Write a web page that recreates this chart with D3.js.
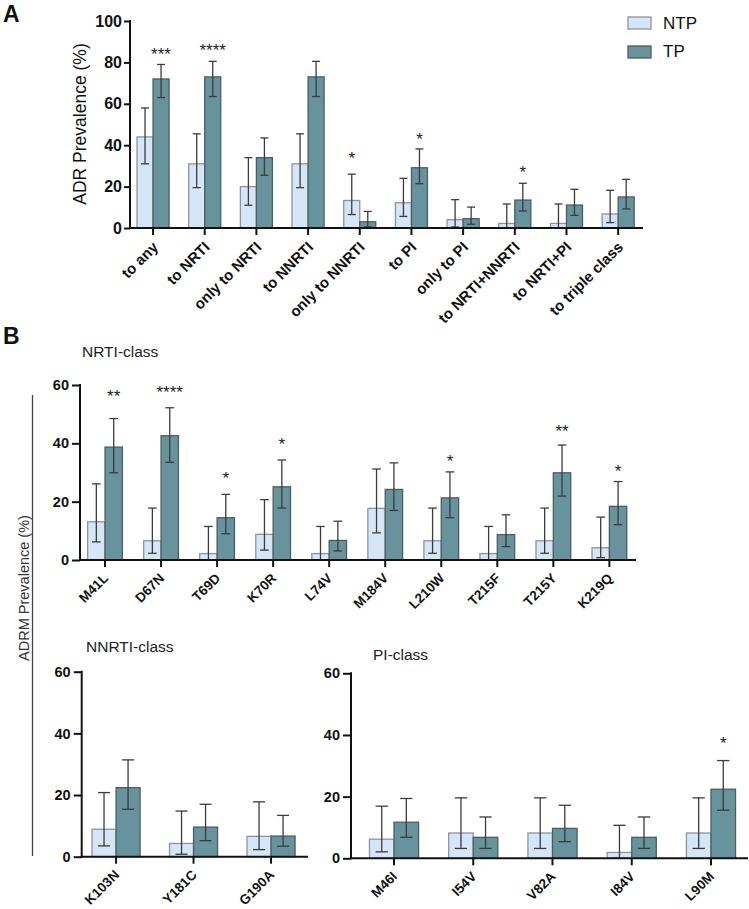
<!DOCTYPE html>
<html><head><meta charset="utf-8">
<script src="https://cdn.jsdelivr.net/npm/d3@7"></script>
<style>body{margin:0;background:#fff} svg{display:block;font-family:"Liberation Sans",Arial,Helvetica,sans-serif}</style>
</head><body><svg id="c" width="749" height="909"></svg>
<script>
// ---------- DATA ----------
const seriesNames = ["NTP", "TP"];
const yTicksA = [0, 20, 40, 60, 80, 100];
const yTicksB = [0, 20, 40, 60];

// Panel A
const catsA = ["to any","to NRTI","only to NRTI","to NNRTI","only to NNRTI","to PI","only to PI","to NRTI+NNRTI","to NRTI+PI","to triple class"];
const ntpA     = [44, 31, 20, 31, 13.3, 12.2, 4, 2.2, 2.2, 6.8];
const ntpALow  = [31, 19.5, 11, 19.5, 6.5, 5.6, 0.5, 0, 0, 2.6];
const ntpAHigh = [58, 45.5, 34, 45.5, 26, 24, 13.7, 11.6, 11.6, 18.2];
const tpA      = [72, 73, 34, 73, 3, 29.1, 4.5, 13.5, 11.1, 15];
const tpALow   = [63, 63.5, 25.5, 63.5, 0.5, 21.4, 1.8, 8.2, 6.1, 9.2];
const tpAHigh  = [79, 80.5, 43.5, 80.5, 8, 38.2, 10.1, 21.6, 18.7, 23.5];
const sigA      = ["***","****","","","*","*","","*","",""];
const sigALevel = [86, 88, 0, 0, 35.7, 45, 0, 29, 0, 0];

// Panel B - NRTI
const catsNRTI = ["M41L","D67N","T69D","K70R","L74V","M184V","L210W","T215F","T215Y","K219Q"];
const ntpNRTI     = [13.1, 6.6, 2.2, 8.8, 2.2, 17.7, 6.6, 2.2, 6.6, 4.2];
const ntpNRTILow  = [6.2, 2.3, 0, 3.4, 0, 9.3, 2.3, 0, 2.3, 0.8];
const ntpNRTIHigh = [26.1, 17.8, 11.5, 20.7, 11.5, 31.2, 17.8, 11.5, 17.8, 14.7];
const tpNRTI      = [38.7, 42.6, 14.5, 25.1, 6.7, 24.2, 21.3, 8.7, 29.9, 18.4];
const tpNRTILow   = [29.9, 33.5, 9.0, 17.8, 3.1, 17.0, 14.5, 4.6, 21.9, 12.1];
const tpNRTIHigh  = [48.5, 52.2, 22.5, 34.3, 13.3, 33.3, 30.2, 15.5, 39.4, 26.9];
const sigNRTI      = ["**","****","*","*","","","*","","**","*"];
const sigNRTILevel = [57.4, 58.9, 29.4, 41.1, 0, 0, 35.1, 0, 45.5, 32];

// Panel B - NNRTI
const catsNNRTI = ["K103N","Y181C","G190A"];
const ntpNNRTI     = [8.9, 4.3, 6.6];
const ntpNNRTILow  = [3.5, 0.8, 2.3];
const ntpNNRTIHigh = [20.8, 14.8, 17.8];
const tpNNRTI      = [22.4, 9.6, 6.7];
const tpNNRTILow   = [15.4, 5.2, 3.4];
const tpNNRTIHigh  = [31.4, 17.0, 13.4];
const sigNNRTI      = ["","",""];
const sigNNRTILevel = [0, 0, 0];

// Panel B - PI
const catsPI = ["M46I","I54V","V82A","I84V","L90M"];
const ntpPI     = [6.2, 8.2, 8.2, 1.9, 8.2];
const ntpPILow  = [2.1, 3.2, 3.2, 0, 3.2];
const ntpPIHigh = [16.9, 19.6, 19.6, 10.7, 19.6];
const tpPI      = [11.7, 6.8, 9.7, 6.8, 22.4];
const tpPILow   = [6.8, 3.2, 5.4, 3.2, 15.6];
const tpPIHigh  = [19.4, 13.4, 17.2, 13.4, 31.7];
const sigPI      = ["","","","","*"];
const sigPILevel = [0, 0, 0, 0, 38.6];

// ---------- STYLE ----------
const fillC  = {NTP: "#d5e6f8", TP: "#66939c"};
const strokeC = {NTP: "#8f9499", TP: "#4d5d62"};
const errC = "#3c3c3c";

const svg = d3.select("#c");

function panel(o) {
  const g = svg.append("g");
  const x = d3.scaleBand().domain(o.cats).range(o.xr);
  const y = d3.scaleLinear().domain([0, o.ymax]).range(o.yr);
  const bw = x.step() * 0.31;
  const rows = o.cats.map((c, i) => ({
    c, i,
    vals: [
      {s: "NTP", v: o.ntp[i], lo: o.ntpLo[i], hi: o.ntpHi[i]},
      {s: "TP",  v: o.tp[i],  lo: o.tpLo[i],  hi: o.tpHi[i]}
    ],
    sig: o.sig[i], lev: o.lev[i]
  }));
  const cx = (c) => x(c) + x.bandwidth() / 2;
  const bx = (c, s) => s === "NTP" ? cx(c) - bw : cx(c);

  // bars
  rows.forEach(r => {
    r.vals.forEach(d => {
      g.append("rect")
        .attr("x", bx(r.c, d.s)).attr("width", bw)
        .attr("y", y(d.v)).attr("height", y(0) - y(d.v))
        .attr("fill", fillC[d.s]).attr("stroke", strokeC[d.s]).attr("stroke-width", 1.3);
    });
  });
  // error bars
  rows.forEach(r => {
    r.vals.forEach(d => {
      const mx = bx(r.c, d.s) + bw / 2, cap = bw * 0.25;
      const eg = g.append("g").attr("stroke", errC).attr("stroke-width", 1.3).attr("fill", "none");
      eg.append("line").attr("x1", mx).attr("x2", mx).attr("y1", y(d.lo)).attr("y2", y(d.hi));
      eg.append("line").attr("x1", mx - cap).attr("x2", mx + cap).attr("y1", y(d.hi)).attr("y2", y(d.hi));
      eg.append("line").attr("x1", mx - cap).attr("x2", mx + cap).attr("y1", y(d.lo)).attr("y2", y(d.lo));
    });
  });
  // significance stars
  rows.filter(r => r.sig).forEach(r => {
    const top = r.vals[0].hi > r.vals[1].hi ? r.vals[0] : r.vals[1];
    g.append("text").attr("x", bx(r.c, top.s) + bw / 2).attr("y", y(r.lev))
      .attr("dy", "0.58em").attr("text-anchor", "middle")
      .attr("font-size", 17).attr("fill", "#222").text(r.sig);
  });

  // y axis
  const ya = g.append("g").attr("transform", `translate(${o.yx},0)`)
    .call(d3.axisLeft(y).tickValues(o.yticks).tickSize(o.tick).tickSizeOuter(0).tickPadding(o.tpad));
  ya.select(".domain").remove();
  ya.selectAll("line").attr("stroke", "#111").attr("stroke-width", 2);
  ya.selectAll("text").attr("font-size", o.yfs).attr("font-weight", "bold").attr("fill", "#111")
    .attr("font-family", "Liberation Sans, Arial, sans-serif");
  g.append("line").attr("x1", o.yx).attr("x2", o.yx).attr("y1", y(0) + 1).attr("y2", y(o.ymax) - 1)
    .attr("stroke", "#111").attr("stroke-width", 2);

  // x axis
  const xa = g.append("g").attr("transform", `translate(0,${y(0)})`)
    .call(d3.axisBottom(x).tickSize(7).tickSizeOuter(0));
  xa.select(".domain").remove();
  xa.selectAll("line").attr("stroke", "#111").attr("stroke-width", 2);
  xa.selectAll("text").attr("font-size", o.xfs).attr("font-weight", "bold").attr("fill", "#111")
    .attr("font-family", "Liberation Sans, Arial, sans-serif")
    .attr("x", 0).attr("y", 0).attr("dy", 0)
    .attr("text-anchor", "end")
    .attr("transform", `translate(${o.lx},${o.ly}) rotate(-45)`);
  g.append("line").attr("x1", o.yx - 1).attr("x2", o.xend).attr("y1", y(0)).attr("y2", y(0))
    .attr("stroke", "#111").attr("stroke-width", 2);

  if (o.title) {
    g.append("text").attr("x", o.title[1]).attr("y", o.title[2]).attr("dy", "0.35em")
      .attr("font-size", 15.5).attr("fill", "#222").text(o.title[0]);
  }
  return {x, y};
}

// Panel A
panel({cats: catsA, ntp: ntpA, ntpLo: ntpALow, ntpHi: ntpAHigh, tp: tpA, tpLo: tpALow, tpHi: tpAHigh,
  sig: sigA, lev: sigALevel, ymax: 100, yticks: yTicksA,
  xr: [127.2, 644], yr: [228, 21], yx: 130, xend: 643, tick: 6, tpad: 2, yfs: 16, xfs: 15, lx: 6, ly: 20});

// Panel B
panel({cats: catsNRTI, ntp: ntpNRTI, ntpLo: ntpNRTILow, ntpHi: ntpNRTIHigh, tp: tpNRTI, tpLo: tpNRTILow, tpHi: tpNRTIHigh,
  sig: sigNRTI, lev: sigNRTILevel, ymax: 60, yticks: yTicksB,
  xr: [77, 637.4], yr: [560, 385], yx: 80, xend: 636, tick: 8, tpad: 3, yfs: 14.5, xfs: 13.5, lx: 4, ly: 19,
  title: ["NRTI-class", 82, 352]});

panel({cats: catsNNRTI, ntp: ntpNNRTI, ntpLo: ntpNNRTILow, ntpHi: ntpNNRTIHigh, tp: tpNNRTI, tpLo: tpNNRTILow, tpHi: tpNNRTIHigh,
  sig: sigNNRTI, lev: sigNNRTILevel, ymax: 60, yticks: yTicksB,
  xr: [77.3, 309.8], yr: [856.7, 671.7], yx: 81.7, xend: 308, tick: 8, tpad: 3, yfs: 14.5, xfs: 13.5, lx: 4, ly: 19,
  title: ["NNRTI-class", 86, 647]});

panel({cats: catsPI, ntp: ntpPI, ntpLo: ntpPILow, ntpHi: ntpPIHigh, tp: tpPI, tpLo: tpPILow, tpHi: tpPIHigh,
  sig: sigPI, lev: sigPILevel, ymax: 60, yticks: yTicksB,
  xr: [354.4, 750.6], yr: [858.3, 673.3], yx: 351, xend: 748, tick: 8, tpad: 3, yfs: 14.5, xfs: 13.5, lx: 4, ly: 19,
  title: ["PI-class", 373, 655]});

// Panel letters
svg.append("text").attr("x", 3).attr("y", 22).attr("font-size", 23).attr("font-weight", "bold").attr("fill", "#111").text("A");
svg.append("text").attr("x", 3).attr("y", 344).attr("font-size", 23).attr("font-weight", "bold").attr("fill", "#111").text("B");

// Axis titles
svg.append("text").attr("transform", "translate(80,124) rotate(-90)").attr("text-anchor", "middle")
  .attr("dy", "0.35em").attr("font-size", 17.5).attr("fill", "#111").text("ADR Prevalence (%)");
svg.append("text").attr("transform", "translate(24,588) rotate(-90)").attr("text-anchor", "middle")
  .attr("dy", "0.35em").attr("font-size", 14.5).attr("fill", "#333").text("ADRM Prevalence (%)");
svg.append("line").attr("x1", 32.5).attr("x2", 32.5).attr("y1", 395).attr("y2", 856)
  .attr("stroke", "#444").attr("stroke-width", 1.3);

// Legend
const leg = svg.append("g");
seriesNames.forEach((s, i) => {
  leg.append("rect").attr("x", 628).attr("y", 17 + i * 29).attr("width", 23).attr("height", 12)
    .attr("fill", fillC[s]).attr("stroke", strokeC[s]).attr("stroke-width", 1.3);
  leg.append("text").attr("x", 663).attr("y", 23 + i * 28.5).attr("dy", "0.35em")
    .attr("font-size", 17).attr("fill", "#111").text(s);
});
</script></body></html>
